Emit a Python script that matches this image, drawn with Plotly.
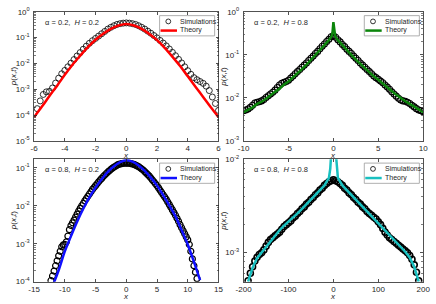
import plotly.graph_objects as go

FONT = "Liberation Sans, Arial, sans-serif"
AX = "#262626"

# ---------------- data (log10 of p(x,t)) ----------------
# Panel 1: alpha=0.2, H=0.2
theory1_x = [-6, -5.5, -5, -4.5, -4, -3.5, -3, -2.5, -2, -1.5, -1, -0.5, 0,
             0.5, 1, 1.5, 2, 2.5, 3, 3.5, 4, 4.5, 5, 5.5, 6]
theory1_log10p = [-4.08, -3.68, -3.26, -2.86, -2.44, -2.05, -1.70, -1.37, -1.08, -0.85, -0.66, -0.53, -0.47,
                  -0.53, -0.66, -0.86, -1.10, -1.40, -1.74, -2.10, -2.50, -2.90, -3.30, -3.70, -4.08]
sim1_x = [-5.8, -5.6, -5.4, -5.2, -5.0, -4.8, -4.6, -4.4, -4.2, -4.0, -3.8, -3.6, -3.4, -3.2, -3.0,
          -2.8, -2.6, -2.4, -2.2, -2.0, -1.8, -1.6, -1.4, -1.2, -1.0, -0.8, -0.6, -0.4, -0.2, 0.0,
          0.2, 0.4, 0.6, 0.8, 1.0, 1.2, 1.4, 1.6, 1.8, 2.0, 2.2, 2.4, 2.6, 2.8, 3.0,
          3.2, 3.4, 3.6, 3.8, 4.0, 4.2, 4.4, 4.6, 4.8, 5.0, 5.2, 5.4, 5.6, 5.8, 6.0]
sim1_log10p = [-3.75, -3.45, -3.20, -3.10, -3.08, -2.95, -2.76, -2.57, -2.40, -2.27, -2.13, -1.99, -1.85, -1.71, -1.58,
               -1.45, -1.33, -1.22, -1.12, -1.03, -0.94, -0.85, -0.76, -0.67, -0.60, -0.54, -0.49, -0.46, -0.44, -0.43,
               -0.44, -0.46, -0.49, -0.54, -0.60, -0.67, -0.75, -0.83, -0.92, -1.01, -1.11, -1.21, -1.32, -1.44, -1.57,
               -1.70, -1.84, -1.98, -2.13, -2.28, -2.42, -2.55, -2.63, -2.70, -2.77, -2.88, -3.05, -3.30, -3.55, -3.82]

# Panel 2: alpha=0.2, H=0.8
theory2_x = [-10, -9.5, -9, -8.5, -8, -7.5, -7, -6.5, -6, -5.5, -5, -4.5, -4, -3.5, -3, -2.5, -2, -1.5, -1,
             -0.5, -0.2, -0.1, 0, 0.1, 0.2, 0.5, 1, 1.5, 2, 2.5, 3, 3.5, 4, 4.5, 5, 5.5, 6, 6.5, 7, 7.5,
             8, 8.5, 9, 9.5, 10]
theory2_log10p = [-2.33, -2.28, -2.22, -2.14, -2.09, -2.02, -1.93, -1.86, -1.79, -1.69, -1.62, -1.53, -1.43, -1.33,
                  -1.23, -1.12, -1.00, -0.89, -0.78, -0.66, -0.57, -0.48, -0.24, -0.48, -0.57, -0.66, -0.78, -0.89,
                  -1.00, -1.11, -1.21, -1.31, -1.41, -1.50, -1.58, -1.66, -1.75, -1.84, -1.93, -2.01, -2.08, -2.14,
                  -2.21, -2.27, -2.33]
sim2_x = [-10, -9.75, -9.5, -9.25, -9, -8.75, -8.5, -8.25, -8, -7.75, -7.5, -7.25, -7, -6.75, -6.5, -6.25,
          -6, -5.75, -5.5, -5.25, -5, -4.75, -4.5, -4.25, -4, -3.75, -3.5, -3.25, -3, -2.75, -2.5, -2.25,
          -2, -1.75, -1.5, -1.25, -1, -0.75, -0.5, -0.25, 0, 0.25, 0.5, 0.75, 1, 1.25, 1.5, 1.75, 2, 2.25,
          2.5, 2.75, 3, 3.25, 3.5, 3.75, 4, 4.25, 4.5, 4.75, 5, 5.25, 5.5, 5.75, 6, 6.25, 6.5, 6.75, 7, 7.25,
          7.5, 7.75, 8, 8.25, 8.5, 8.75, 9, 9.25, 9.5, 9.75, 10]
sim2_log10p = [-2.30, -2.28, -2.26, -2.22, -2.17, -2.12, -2.10, -2.09, -2.07, -2.04, -1.99, -1.95, -1.91, -1.87,
               -1.82, -1.76, -1.70, -1.66, -1.64, -1.62, -1.59, -1.54, -1.49, -1.44, -1.39, -1.34, -1.29, -1.24,
               -1.19, -1.13, -1.08, -1.03, -0.97, -0.92, -0.86, -0.80, -0.75, -0.69, -0.64, -0.58, -0.55, -0.59,
               -0.65, -0.70, -0.76, -0.81, -0.87, -0.92, -0.97, -1.03, -1.08, -1.13, -1.19, -1.24, -1.29, -1.34,
               -1.39, -1.44, -1.49, -1.53, -1.57, -1.61, -1.65, -1.70, -1.75, -1.80, -1.86, -1.91, -1.96, -2.01,
               -2.05, -2.07, -2.08, -2.10, -2.13, -2.17, -2.21, -2.25, -2.28, -2.30, -2.32]

# Panel 3: alpha=0.8, H=0.2
theory3_x = [-12, -11, -10, -9, -8, -7, -6, -5, -4, -3, -2, -1, 0, 1, 2, 3, 4, 5, 6, 7, 8, 9, 10, 11, 12]
theory3_log10p = [-4.12, -3.70, -3.20, -2.80, -2.42, -2.08, -1.78, -1.52, -1.30, -1.11, -0.96, -0.85, -0.80,
                  -0.84, -0.94, -1.08, -1.26, -1.47, -1.72, -1.99, -2.28, -2.64, -3.02, -3.48, -3.96]
sim3_x = [-12.25, -12.0, -11.75, -11.5, -11.25, -11.0, -10.75, -10.5, -10.25, -10.0, -9.75, -9.5, -9.25,
          -9.0, -8.75, -8.5, -8.25, -8.0, -7.75, -7.5, -7.25, -7.0, -6.75, -6.5, -6.25, -6.0, -5.75, -5.5,
          -5.25, -5.0, -4.75, -4.5, -4.25, -4.0, -3.75, -3.5, -3.25, -3.0, -2.75, -2.5, -2.25, -2.0, -1.75,
          -1.5, -1.25, -1.0, -0.75, -0.5, -0.25, 0.0, 0.25, 0.5, 0.75, 1.0, 1.25, 1.5, 1.75, 2.0, 2.25, 2.5,
          2.75, 3.0, 3.25, 3.5, 3.75, 4.0, 4.25, 4.5, 4.75, 5.0, 5.25, 5.5, 5.75, 6.0, 6.25, 6.5, 6.75, 7.0,
          7.25, 7.5, 7.75, 8.0, 8.25, 8.5, 8.75, 9.0, 9.25, 9.5, 9.75, 10.0, 10.25, 10.5, 10.75, 11.0, 11.25, 11.5]
sim3_log10p = [-3.97, -3.85, -3.72, -3.58, -3.45, -3.32, -3.20, -3.08, -3.03, -3.02, -2.95, -2.80, -2.63,
               -2.52, -2.45, -2.38, -2.30, -2.22, -2.14, -2.07, -2.00, -1.94, -1.87, -1.81, -1.75, -1.69, -1.63,
               -1.57, -1.52, -1.47, -1.42, -1.37, -1.32, -1.28, -1.23, -1.19, -1.15, -1.11, -1.08, -1.04, -1.01,
               -0.98, -0.96, -0.93, -0.91, -0.90, -0.89, -0.88, -0.88, -0.88, -0.88, -0.88, -0.89, -0.90, -0.91,
               -0.93, -0.95, -0.97, -1.00, -1.03, -1.06, -1.10, -1.14, -1.18, -1.22, -1.27, -1.32, -1.37, -1.42,
               -1.47, -1.53, -1.59, -1.65, -1.71, -1.77, -1.83, -1.90, -1.97, -2.04, -2.11, -2.18, -2.25, -2.33,
               -2.41, -2.50, -2.58, -2.66, -2.74, -2.82, -2.90, -3.02, -3.20, -3.40, -3.58, -3.75, -3.92]

# Panel 4: alpha=0.8, H=0.8
theory4_x = [-190, -180, -170, -160, -150, -140, -130, -120, -110, -100, -90, -80, -70, -60, -50, -40, -30,
             -20, -10, -7, -5, -3, 0, 3, 5, 7, 10, 20, 30, 40, 50, 60, 70, 80, 90, 100, 110, 120, 130, 140,
             150, 160, 170, 180, 190]
theory4_log10p = [-3.31, -3.16, -3.06, -3.00, -2.94, -2.87, -2.81, -2.76, -2.71, -2.67, -2.63, -2.58, -2.53,
                  -2.48, -2.43, -2.38, -2.33, -2.28, -2.20, -2.10, -1.95, -1.80, -1.70, -1.80, -1.95, -2.10,
                  -2.20, -2.28, -2.33, -2.38, -2.43, -2.48, -2.53, -2.59, -2.64, -2.69, -2.74, -2.79, -2.84,
                  -2.89, -2.94, -2.99, -3.05, -3.15, -3.31]
sim4_x = [-190, -185, -180, -175, -170, -165, -160, -155, -150, -145, -140, -135, -130, -125, -120, -115,
          -110, -105, -100, -95, -90, -85, -80, -75, -70, -65, -60, -55, -50, -45, -40, -35, -30, -25, -20,
          -15, -10, -5, 0, 5, 10, 15, 20, 25, 30, 35, 40, 45, 50, 55, 60, 65, 70, 75, 80, 85, 90, 95, 100,
          105, 110, 115, 120, 125, 130, 135, 140, 145, 150, 155, 160, 165, 170, 175, 180, 185, 190]
sim4_log10p = [-3.30, -3.22, -3.15, -3.09, -3.05, -3.02, -3.00, -2.97, -2.93, -2.89, -2.86, -2.84, -2.82,
               -2.80, -2.78, -2.75, -2.72, -2.70, -2.68, -2.66, -2.63, -2.61, -2.58, -2.56, -2.53, -2.51,
               -2.48, -2.46, -2.43, -2.41, -2.38, -2.36, -2.33, -2.31, -2.28, -2.26, -2.24, -2.23, -2.22,
               -2.23, -2.24, -2.26, -2.28, -2.31, -2.33, -2.36, -2.38, -2.41, -2.43, -2.46, -2.48, -2.51,
               -2.53, -2.56, -2.58, -2.60, -2.62, -2.64, -2.67, -2.70, -2.74, -2.78, -2.81, -2.84, -2.86,
               -2.88, -2.90, -2.92, -2.94, -2.96, -2.98, -3.00, -3.03, -3.07, -3.13, -3.21, -3.30]

# ticks and labels
x1_ticks = [-6, -4, -2, 0, 2, 4, 6]
x2_ticks = [-10, -5, 0, 5, 10]
x3_ticks = [-15, -10, -5, 0, 5, 10, 15]
x4_ticks = [-200, -100, 0, 100, 200]
y1_exps = [-5, -4, -3, -2, -1, 0]
y2_exps = [-3, -2, -1, 0]
y3_exps = [-4, -3, -2, -1]
y4_exps = [-3, -2]
panel_labels = ["α = 0.2,  <i>H</i> = 0.2", "α = 0.2,  <i>H</i> = 0.8",
                "α = 0.8,  <i>H</i> = 0.2", "α = 0.8,  <i>H</i> = 0.8"]
legend_names = ["Simulations", "Theory"]
theory_colors = ["#ff0000", "#0b850b", "#1010ff", "#18c0c0"]

W, H = 436, 304


def px_x(p):
    return p / W


def px_y(p):
    return 1 - p / H


panels = [
    dict(sx=sim1_x, sy=sim1_log10p, tx=theory1_x, ty=theory1_log10p, xr=[-6, 6], yr=[-5, 0],
         xt=x1_ticks, ye=y1_exps, xd=[27, 218], yd=[6, 140], shape="spline", mw=0.8),
    dict(sx=sim2_x, sy=sim2_log10p, tx=theory2_x, ty=theory2_log10p, xr=[-10, 10], yr=[-3, 0],
         xt=x2_ticks, ye=y2_exps, xd=[244, 430], yd=[6, 140], shape="linear", mw=1.1),
    dict(sx=sim3_x, sy=sim3_log10p, tx=theory3_x, ty=theory3_log10p, xr=[-15, 15], yr=[-4, -0.775],
         xt=x3_ticks, ye=y3_exps, xd=[27, 218], yd=[159, 286], shape="spline", mw=1.2),
    dict(sx=sim4_x, sy=sim4_log10p, tx=theory4_x, ty=theory4_log10p, xr=[-200, 200], yr=[-3.31, -2],
         xt=x4_ticks, ye=y4_exps, xd=[244, 430], yd=[159, 286], shape="linear", mw=1.6),
]

fig = go.Figure()
annotations = []
shapes = []
layout = {}
tickfont = dict(family=FONT, size=8, color=AX)

for i, p in enumerate(panels):
    n = i + 1
    xa = "x" if n == 1 else f"x{n}"
    ya = "y" if n == 1 else f"y{n}"
    fig.add_trace(go.Scatter(
        x=p["sx"], y=[10 ** v for v in p["sy"]], mode="markers", name=legend_names[0],
        marker=dict(symbol="circle-open", size=6, color="black", line=dict(width=p["mw"], color="black")),
        xaxis=xa, yaxis=ya, showlegend=False))
    fig.add_trace(go.Scatter(
        x=p["tx"], y=[10 ** v for v in p["ty"]], mode="lines", name=legend_names[1],
        line=dict(color=theory_colors[i], width=2.5, shape=p["shape"]),
        xaxis=xa, yaxis=ya, showlegend=False))

    xkey = "xaxis" if n == 1 else f"xaxis{n}"
    ykey = "yaxis" if n == 1 else f"yaxis{n}"
    layout[xkey] = dict(
        domain=[px_x(p["xd"][0]), px_x(p["xd"][1])], range=p["xr"], anchor=ya,
        tickmode="array", tickvals=p["xt"], ticktext=[str(t) for t in p["xt"]],
        ticks="inside", ticklen=3, tickwidth=0.8, tickcolor=AX,
        showline=True, linecolor=AX, linewidth=0.8, mirror="ticks",
        showgrid=False, zeroline=False, tickfont=tickfont, ticklabelstandoff=0,
        ticklabeloverflow="allow")
    minor_vals = [m * 10 ** e for e in range(-6, 1) for m in range(2, 10)]
    layout[ykey] = dict(
        domain=[px_y(p["yd"][1]), px_y(p["yd"][0])], type="log", range=p["yr"], anchor=xa,
        tickmode="array", tickvals=[10 ** e for e in p["ye"]],
        ticktext=[f"10<sup>{e}</sup>" for e in p["ye"]],
        ticks="inside", ticklen=3, tickwidth=0.8, tickcolor=AX,
        minor=dict(ticks="inside", ticklen=1.8, tickwidth=0.6, tickcolor=AX, tickvals=minor_vals, showgrid=False),
        showline=True, linecolor=AX, linewidth=0.8, mirror="ticks",
        showgrid=False, zeroline=False, tickfont=tickfont, ticklabelstandoff=2,
        ticklabeloverflow="allow")

    # hand-drawn legend box (MATLAB style, compact)
    lr = p["xd"][1] - 4
    ll = lr - 57
    lt = p["yd"][0] + 4
    lb = lt + 21
    shapes.append(dict(type="rect", xref="paper", yref="paper",
                       x0=px_x(ll), x1=px_x(lr), y0=px_y(lb), y1=px_y(lt),
                       line=dict(color="#9a9a9a", width=0.8), fillcolor="white", layer="above"))
    shapes.append(dict(type="circle", xref="paper", yref="paper",
                       x0=px_x(ll + 6.5), x1=px_x(ll + 11.5), y0=px_y(lt + 8.5), y1=px_y(lt + 3.5),
                       line=dict(color="black", width=0.8), layer="above"))
    shapes.append(dict(type="line", xref="paper", yref="paper",
                       x0=px_x(ll + 1), x1=px_x(ll + 18), y0=px_y(lt + 15.5), y1=px_y(lt + 15.5),
                       line=dict(color=theory_colors[i], width=2.5), layer="above"))
    annotations.append(dict(x=px_x(ll + 19.5), y=px_y(lt + 6), xref="paper", yref="paper",
                            text=legend_names[0], showarrow=False, xanchor="left", yanchor="middle",
                            font=dict(family=FONT, size=7, color=AX)))
    annotations.append(dict(x=px_x(ll + 19.5), y=px_y(lt + 15), xref="paper", yref="paper",
                            text=legend_names[1], showarrow=False, xanchor="left", yanchor="middle",
                            font=dict(family=FONT, size=7, color=AX)))

    # panel label
    annotations.append(dict(
        x=px_x(p["xd"][0] + 9), y=px_y(p["yd"][0] + 11), xref="paper", yref="paper",
        text=panel_labels[i], showarrow=False, xanchor="left", yanchor="middle",
        font=dict(family=FONT, size=7.5, color=AX)))
    # axis titles
    annotations.append(dict(
        x=px_x((p["xd"][0] + p["xd"][1]) / 2), y=px_y(p["yd"][1] + 15), xref="paper", yref="paper",
        text="<i>x</i>", showarrow=False, xanchor="center", yanchor="middle",
        font=dict(family=FONT, size=8, color=AX)))
    annotations.append(dict(
        x=px_x(p["xd"][0] - 21), y=px_y((p["yd"][0] + p["yd"][1]) / 2), xref="paper", yref="paper",
        text="<i>p</i>(<i>x</i>,<i>t</i>)", showarrow=False, textangle=-90,
        xanchor="center", yanchor="middle", font=dict(family=FONT, size=8, color=AX)))

fig.update_layout(
    width=W, height=H, margin=dict(l=0, r=0, t=0, b=0),
    paper_bgcolor="white", plot_bgcolor="white", hovermode=False,
    showlegend=False, annotations=annotations, shapes=shapes, **layout)

fig.write_html("out.html", config={"displayModeBar": False, "staticPlot": True},
               post_script="document.body.style.margin='0';document.body.style.padding='0';")
